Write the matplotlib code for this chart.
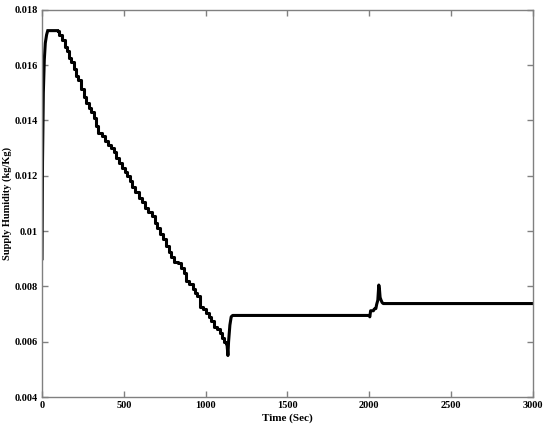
import matplotlib
matplotlib.use('Agg')
import matplotlib.pyplot as plt

# rise at start (sec, kg/kg)
rise_t = [0, 3, 8, 14, 20, 28, 35, 95]
rise_v = [0.0090, 0.0125, 0.0150, 0.0162, 0.0168, 0.0171, 0.01725, 0.01725]

# staircase descent
step_t = [95, 105, 125, 140, 155, 165, 180, 195, 210, 220, 240, 255, 270, 285,
          300, 315, 330, 345, 365, 385, 405, 420, 440, 455, 470, 490, 505, 520,
          535, 550, 570, 590, 610, 630, 650, 670, 690, 705, 720, 740, 755, 775,
          790, 805, 830, 850, 865, 880, 900, 920, 935, 950, 965, 985, 1005,
          1020, 1035, 1050, 1070, 1085, 1100, 1115, 1125, 1132]
step_v = [0.01725, 0.01710, 0.01690, 0.01665, 0.01650, 0.01625, 0.01610,
          0.01585, 0.01560, 0.01545, 0.01515, 0.01485, 0.01465, 0.01445,
          0.01430, 0.01410, 0.01380, 0.01355, 0.01345, 0.01325, 0.01310,
          0.01300, 0.01285, 0.01265, 0.01245, 0.01230, 0.01215, 0.01200,
          0.01180, 0.01160, 0.01140, 0.01120, 0.01105, 0.01085, 0.01070,
          0.01055, 0.01030, 0.01010, 0.00990, 0.00970, 0.00945, 0.00925,
          0.00905, 0.00890, 0.00885, 0.00865, 0.00850, 0.00820, 0.00810,
          0.00790, 0.00775, 0.00765, 0.00725, 0.00720, 0.00705, 0.00690,
          0.00675, 0.00655, 0.00645, 0.00630, 0.00615, 0.00600, 0.00590,
          0.00580]

# dip, recovery and the rest
tail_t = [1132, 1136, 1140, 1148, 1156, 1165, 2000, 2003, 2008, 2025, 2030,
          2040, 2045, 2052, 2058, 2062, 2066, 2072, 2078, 2085, 3000]
tail_v = [0.00580, 0.00550, 0.00600, 0.00660, 0.00690, 0.00695, 0.00695,
          0.00690, 0.00712, 0.00712, 0.00718, 0.00720, 0.00735, 0.00750,
          0.00805, 0.00790, 0.00760, 0.00750, 0.00742, 0.00738, 0.00738]

x_ticks = [0, 500, 1000, 1500, 2000, 2500, 3000]
y_ticks = [0.004, 0.006, 0.008, 0.010, 0.012, 0.014, 0.016, 0.018]
y_labels = ['0.004', '0.006', '0.008', '0.01', '0.012', '0.014', '0.016', '0.018']

plt.rcParams['font.family'] = ['Liberation Serif', 'DejaVu Serif']
plt.rcParams['font.weight'] = 'bold'

fig = plt.figure(figsize=(5.5, 4.3), dpi=100)
ax = fig.add_axes([0.0764, 0.0767, 0.8926, 0.9003])

lw = 2.2
ax.plot(rise_t, rise_v, color='black', lw=lw, solid_joinstyle='miter')
ax.plot(step_t, step_v, color='black', lw=lw, drawstyle='steps-post')
ax.plot(tail_t, tail_v, color='black', lw=lw)

ax.set_xlim(0, 3000)
ax.set_ylim(0.004, 0.018)
ax.set_xticks(x_ticks)
ax.set_xticklabels([str(t) for t in x_ticks])
ax.set_yticks(y_ticks)
ax.set_yticklabels(y_labels)

for s in ax.spines.values():
    s.set_color('#808080')
    s.set_linewidth(1.0)
ax.tick_params(direction='in', length=4, width=1, color='#808080',
               top=True, right=True, labelsize=7.5, pad=3)

ax.set_xlabel('Time (Sec)', fontsize=8, fontweight='bold', labelpad=2)
ax.set_ylabel('Supply Humidity (kg/Kg)', fontsize=7.5, fontweight='bold')
ax.yaxis.set_label_coords(-0.062, 0.5)

fig.savefig('out.png', dpi=100)
